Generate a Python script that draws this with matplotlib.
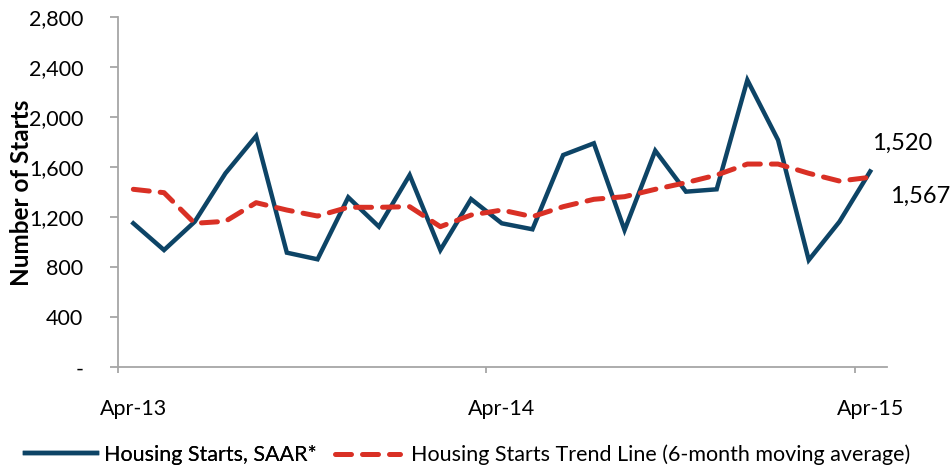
import matplotlib.pyplot as plt
from matplotlib.ticker import FuncFormatter

plt.rcParams["font.family"] = ["Lato", "DejaVu Sans"]

# monthly, Apr-13 .. Apr-15
months = ["Apr-13", "May-13", "Jun-13", "Jul-13", "Aug-13", "Sep-13", "Oct-13",
          "Nov-13", "Dec-13", "Jan-14", "Feb-14", "Mar-14", "Apr-14", "May-14",
          "Jun-14", "Jul-14", "Aug-14", "Sep-14", "Oct-14", "Nov-14", "Dec-14",
          "Jan-15", "Feb-15", "Mar-15", "Apr-15"]
starts_saar = [1152, 938, 1165, 1552, 1850, 917, 864, 1360, 1125, 1538, 938,
               1346, 1152, 1104, 1698, 1792, 1098, 1733, 1405, 1424, 2298,
               1818, 858, 1165, 1567]
trend_6m = [1424, 1397, 1152, 1168, 1317, 1258, 1210, 1280, 1280, 1285, 1125,
            1218, 1258, 1205, 1285, 1344, 1365, 1424, 1477, 1538, 1626, 1626,
            1552, 1490, 1520]
tick_labels = ["Apr-13", "Apr-14", "Apr-15"]
yticks = [0, 400, 800, 1200, 1600, 2000, 2400, 2800]

BLUE = "#0D4466"
RED = "#D93025"
GREY = "#A6A6A6"

x = list(range(len(months)))

fig = plt.figure(figsize=(9.53, 4.74), dpi=100)
ax = fig.add_axes([0.1238, 0.2251, 0.807, 0.7384])

l1, = ax.plot(x, starts_saar, color=BLUE, lw=3.2, solid_joinstyle="miter",
              label="Housing Starts, SAAR*")
l2, = ax.plot(x, trend_6m, color=RED, lw=3.6, dashes=(3.2, 2.2),
              dash_capstyle="round",
              label="Housing Starts Trend Line (6-month moving average)")

ax.set_xlim(-0.5, 24.55)
ax.set_ylim(0, 2800)

# Excel category axis: labels on the month, tick marks between months
ax.set_xticks([0, 12, 24])
ax.set_xticklabels(tick_labels)
ax.set_xticks([-0.5, 11.5, 23.5], minor=True)
ax.set_yticks(yticks)
ax.yaxis.set_major_formatter(FuncFormatter(lambda v, p: "-" if v == 0 else f"{v:,.0f}"))

for side in ["top", "right"]:
    ax.spines[side].set_visible(False)
for side in ["left", "bottom"]:
    ax.spines[side].set_color(GREY)
    ax.spines[side].set_linewidth(1.3)

ax.tick_params(axis="y", direction="out", length=6, width=1.3, color=GREY,
               labelsize=15.5, pad=19, labelcolor="black")
ax.tick_params(axis="x", which="major", length=0, labelsize=15.5, pad=23,
               labelcolor="black")
ax.tick_params(axis="x", which="minor", direction="out", length=4, width=1.3,
               color=GREY)

fig.text(22 / 953, 1 - 193 / 474, "Number of Starts", rotation=90,
         ha="center", va="center", fontsize=17.5, fontweight="bold")

# end-point labels
ax.text(24.05, 1792, "1,520", fontsize=17, va="center", ha="left")
ax.text(24.65, 1365, "1,567", fontsize=17, va="center", ha="left")

leg_y = 1 - 455 / 474
leg1 = fig.legend(handles=[l1], loc="center left", bbox_to_anchor=(25 / 953, leg_y),
                  frameon=False, fontsize=15.5, handlelength=3.35,
                  handletextpad=0.3, borderpad=0, borderaxespad=0)
fig.legend(handles=[l2], loc="center left", bbox_to_anchor=(335 / 953, leg_y),
           frameon=False, fontsize=15.5, handlelength=3.0,
           handletextpad=0.55, borderpad=0, borderaxespad=0)
fig.add_artist(leg1)

fig.savefig("out.png", dpi=100)
